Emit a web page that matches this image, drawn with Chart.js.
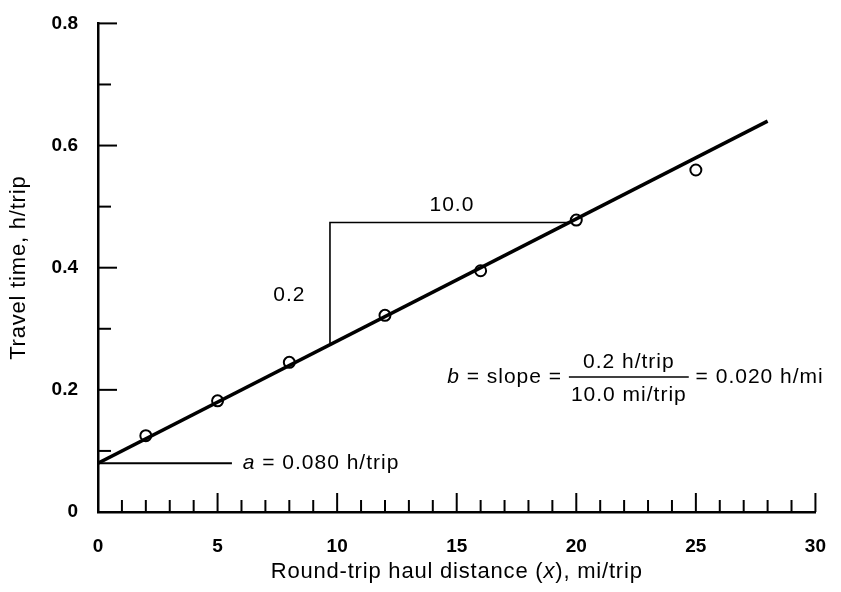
<!DOCTYPE html>
<html>
<head>
<meta charset="utf-8">
<script src="https://cdn.jsdelivr.net/npm/chart.js@4.4.1/dist/chart.umd.min.js"></script>
<style>
  html, body { margin: 0; padding: 0; background: #fff; }
  #wrap { width: 841px; height: 592px; }
</style>
</head>
<body>
<div id="wrap"><canvas id="myChart"></canvas></div>
<script>
// ------------------------------------------------------------
// Data
// ------------------------------------------------------------
const distance = [2, 5, 8, 12, 16, 20, 25]                          // mi/trip
const travelTime = [0.125, 0.182, 0.245, 0.322, 0.395, 0.478, 0.56] // h/trip

// fitted line y = a + b x
const fitX = [0, 28]
const fitY = [0.08, 0.64]

// slope triangle (rise 0.2, run 10.0)
const slopeX = [9.7, 9.7, 19.7]
const slopeY = [0.274, 0.474, 0.474]

// intercept leader
const interceptX = [0, 5.6]
const interceptY = [0.08, 0.08]

const xTickLabels = [0, 5, 10, 15, 20, 25, 30]
const yTickLabels = [0, 0.2, 0.4, 0.6, 0.8]

const toPts = (xs, ys) => xs.map((v, i) => ({ x: v, y: ys[i] }))

const FONT = '"Liberation Sans", Arial, sans-serif'

// ------------------------------------------------------------
// Plugin: inward tick marks, titles, text annotations
// ------------------------------------------------------------
function drawRuns(ctx, runs, x, y, size) {
    let cx = x
    runs.forEach(r => {
        ctx.font = (r.italic ? 'italic ' : '') + size + 'px ' + FONT
        ctx.fillText(r.t, cx, y)
        cx += ctx.measureText(r.t).width
    })
    return cx
}

function runsWidth(ctx, runs, size) {
    let w = 0
    runs.forEach(r => {
        ctx.font = (r.italic ? 'italic ' : '') + size + 'px ' + FONT
        w += ctx.measureText(r.t).width
    })
    return w
}

const figureExtras = {
    id: 'figureExtras',
    afterDatasetsDraw(chart) {
        const { ctx, scales: { x, y } } = chart
        ctx.save()
        ctx.strokeStyle = '#000'
        ctx.lineWidth = 2

        // x ticks, pointing up into the plot
        for (let v = 0; v <= 30; v++) {
            const px = x.getPixelForValue(v)
            const len = v % 5 === 0 ? 19 : 12
            ctx.beginPath()
            ctx.moveTo(px, y.bottom)
            ctx.lineTo(px, y.bottom - len)
            ctx.stroke()
        }
        // y ticks, pointing right into the plot
        for (let i = 0; i <= 8; i++) {
            const py = y.getPixelForValue(i / 10)
            const len = i % 2 === 0 ? 19 : 13
            ctx.beginPath()
            ctx.moveTo(x.left, py)
            ctx.lineTo(x.left + len, py)
            ctx.stroke()
        }

        ctx.fillStyle = '#000'
        ctx.textBaseline = 'middle'
        ctx.letterSpacing = '1px'
        const AS = 21

        // run / rise labels
        ctx.textAlign = 'center'
        ctx.font = AS + 'px ' + FONT
        ctx.fillText('10.0', x.getPixelForValue(14.8), y.getPixelForValue(0.502))
        ctx.fillText('0.2', x.getPixelForValue(8.0), y.getPixelForValue(0.355))

        // intercept label
        ctx.textAlign = 'left'
        drawRuns(ctx, [{ t: 'a', italic: true }, { t: ' = 0.080 h/trip' }],
            x.getPixelForValue(6.05), y.getPixelForValue(0.08), AS)

        // slope expression
        const sy = y.getPixelForValue(0.221)
        let cx = drawRuns(ctx, [{ t: 'b', italic: true }, { t: ' = slope = ' }],
            x.getPixelForValue(14.6), sy, AS)
        ctx.font = AS + 'px ' + FONT
        const num = '0.2 h/trip', den = '10.0 mi/trip'
        const w = Math.max(ctx.measureText(num).width, ctx.measureText(den).width) + 4
        ctx.textAlign = 'center'
        ctx.fillText(num, cx + w / 2, sy - 15)
        ctx.fillText(den, cx + w / 2, sy + 18)
        ctx.lineWidth = 1.5
        ctx.beginPath()
        ctx.moveTo(cx, sy)
        ctx.lineTo(cx + w, sy)
        ctx.stroke()
        ctx.textAlign = 'left'
        ctx.fillText(' = 0.020 h/mi', cx + w, sy)

        // axis titles
        ctx.letterSpacing = '0.8px'
        const xParts = [{ t: 'Round-trip haul distance (' }, { t: 'x', italic: true }, { t: '), mi/trip' }]
        const tw = runsWidth(ctx, xParts, 22)
        drawRuns(ctx, xParts, (x.left + x.right) / 2 - tw / 2, y.bottom + 60, 22)

        ctx.save()
        ctx.translate(19, (y.top + y.bottom) / 2)
        ctx.rotate(-Math.PI / 2)
        ctx.textAlign = 'center'
        ctx.font = '22px ' + FONT
        ctx.fillText('Travel time, h/trip', 0, 0)
        ctx.restore()

        ctx.restore()
    }
}

// ------------------------------------------------------------
// Chart
// ------------------------------------------------------------
const data = {
    datasets: [
        {
            type: 'line',
            data: toPts(fitX, fitY),
            borderColor: '#000',
            borderWidth: 3.5,
            pointRadius: 0,
        },
        {
            type: 'line',
            data: toPts(slopeX, slopeY),
            borderColor: '#000',
            borderWidth: 1.6,
            pointRadius: 0,
        },
        {
            type: 'line',
            data: toPts(interceptX, interceptY),
            borderColor: '#000',
            borderWidth: 2,
            pointRadius: 0,
        },
        {
            type: 'scatter',
            data: toPts(distance, travelTime),
            borderColor: '#000',
            backgroundColor: '#fff',
            borderWidth: 2,
            pointRadius: 5.5,
        },
    ]
}

const config = {
    type: 'scatter',
    data: data,
    options: {
        responsive: true,
        maintainAspectRatio: false,
        animation: false,
        layout: { padding: { top: 23, right: 13, left: 0, bottom: 0 } },
        plugins: {
            legend: { display: false },
            tooltip: { enabled: false },
        },
        scales: {
            x: {
                type: 'linear',
                min: 0,
                max: 30,
                grid: { display: false },
                border: { display: true, color: '#000', width: 2.5 },
                ticks: {
                    stepSize: 5,
                    padding: 15,
                    color: '#000',
                    font: { family: FONT, size: 19, weight: 'bold' },
                    callback: v => xTickLabels.includes(v) ? String(v) : '',
                },
                afterFit: s => { s.height = 80 },
            },
            y: {
                type: 'linear',
                min: 0,
                max: 0.8,
                grid: { display: false },
                border: { display: true, color: '#000', width: 2.5 },
                ticks: {
                    stepSize: 0.2,
                    padding: 12,
                    color: '#000',
                    font: { family: FONT, size: 19, weight: 'bold' },
                    callback: v => {
                        const t = yTickLabels.find(k => Math.abs(k - v) < 1e-6)
                        return t === undefined ? '' : (t === 0 ? '0' : t.toFixed(1))
                    },
                },
                afterFit: s => { s.width = 98 },
            },
        },
    },
    plugins: [figureExtras],
}

const myChart = new Chart(document.getElementById('myChart'), config)
</script>
</body>
</html>
